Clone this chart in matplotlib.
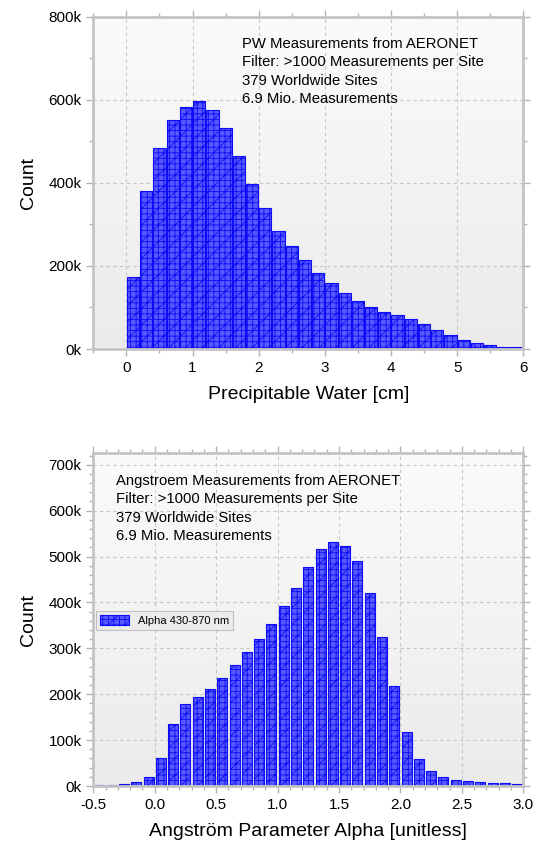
import numpy as np
import matplotlib
matplotlib.use('Agg')
import matplotlib.pyplot as plt
from matplotlib.colors import LinearSegmentedColormap
from matplotlib.ticker import MultipleLocator, FuncFormatter, FormatStrFormatter

plt.rcParams['font.family'] = ['Liberation Sans', 'DejaVu Sans']
plt.rcParams['hatch.linewidth'] = 0.6

# precipitable water histogram, bins of 0.2 cm starting at 0
pw_left = np.arange(30) * 0.2
pw_counts = [173, 381, 484, 552, 582, 598, 576, 532, 465, 397,
             340, 284, 247, 214, 183, 160, 136, 116, 101, 90,
             82, 71.5, 60, 46.6, 33.7, 21.7, 13.7, 8.8, 5.6, 4.8]
pw_counts = np.array(pw_counts) * 1000

# angstroem alpha histogram, bins of 0.1 starting at -0.5
alpha_left = np.arange(-5, 30) / 10.0
alpha_counts = [2, 2, 4.5, 9, 20, 62, 135, 179, 194, 211,
                235, 264, 293, 320, 353, 393, 432, 478, 517, 532,
                523, 490, 420, 325, 217, 118, 59, 32, 19.5, 13,
                11, 8.7, 6.5, 6.5, 4.4]
alpha_counts = np.array(alpha_counts) * 1000

pw_text = ['PW Measurements from AERONET',
           'Filter: >1000 Measurements per Site',
           '379 Worldwide Sites',
           '6.9 Mio. Measurements']
alpha_text = ['Angstroem Measurements from AERONET',
              'Filter: >1000 Measurements per Site',
              '379 Worldwide Sites',
              '6.9 Mio. Measurements']

BAR_FACE = '#5858ff'
BAR_EDGE = '#0c0cf6'
FRAME = '#c4c4c4'
bg_cmap = LinearSegmentedColormap.from_list('bg', ['#ebebeb', '#fbfbfb'])


def style_axes(ax):
    # light gradient background, grey frame, dashed grid
    grad = np.linspace(0, 1, 256).reshape(-1, 1)
    ax.imshow(grad, extent=[0, 1, 0, 1], transform=ax.transAxes, cmap=bg_cmap,
              aspect='auto', origin='lower', zorder=0)
    for sp in ax.spines.values():
        sp.set_color(FRAME)
        sp.set_linewidth(2)
    ax.grid(True, which='major', linestyle=(0, (3, 3)), color='#c6c6c6', linewidth=0.8)
    ax.set_axisbelow(True)
    ax.tick_params(which='both', direction='out', color='#b4b4b4', top=True, right=True,
                   labeltop=False, labelright=False, labelsize=11)
    ax.tick_params(which='major', length=5, width=1)
    ax.tick_params(which='minor', length=3, width=1)


fig = plt.figure(figsize=(5.36, 8.49), dpi=100)

# top panel: precipitable water
ax1 = fig.add_axes([0.1741, 0.5889, 0.8022, 0.3916])
style_axes(ax1)
ax1.bar(pw_left + 0.1, pw_counts, width=0.185, color=BAR_FACE, edgecolor=BAR_EDGE,
        linewidth=0.8, hatch='+++//', zorder=2)
ax1.set_xlim(-0.5, 6.0)
ax1.set_ylim(0, 800000)
ax1.xaxis.set_major_locator(MultipleLocator(1))
ax1.xaxis.set_minor_locator(MultipleLocator(0.5))
ax1.yaxis.set_major_locator(MultipleLocator(200000))
ax1.yaxis.set_minor_locator(MultipleLocator(100000))
ax1.yaxis.set_major_formatter(FuncFormatter(lambda v, p: '%dk' % round(v / 1000)))
ax1.set_xlabel('Precipitable Water [cm]', fontsize=14, labelpad=8)
ax1.set_ylabel('Count', fontsize=14, labelpad=8)
ax1.text(0.345, 0.94, '\n'.join(pw_text), transform=ax1.transAxes, va='top', ha='left',
         fontsize=10.7, linespacing=1.42, zorder=3)

# bottom panel: angstroem alpha
ax2 = fig.add_axes([0.1741, 0.0742, 0.8022, 0.3919])
style_axes(ax2)
ax2.bar(alpha_left + 0.05, alpha_counts, width=0.082, color=BAR_FACE, edgecolor=BAR_EDGE,
        linewidth=0.8, hatch='+++//', zorder=2, label='Alpha 430-870 nm')
ax2.set_xlim(-0.5, 3.0)
ax2.set_ylim(0, 725000)
ax2.xaxis.set_major_locator(MultipleLocator(0.5))
ax2.xaxis.set_minor_locator(MultipleLocator(0.1))
ax2.xaxis.set_major_formatter(FormatStrFormatter('%.1f'))
ax2.yaxis.set_major_locator(MultipleLocator(100000))
ax2.yaxis.set_minor_locator(MultipleLocator(20000))
ax2.yaxis.set_major_formatter(FuncFormatter(lambda v, p: '%dk' % round(v / 1000)))
ax2.set_xlabel('Angström Parameter Alpha [unitless]', fontsize=14, labelpad=8)
ax2.set_ylabel('Count', fontsize=14, labelpad=8)
ax2.text(0.053, 0.939, '\n'.join(alpha_text), transform=ax2.transAxes, va='top', ha='left',
         fontsize=10.7, linespacing=1.42, zorder=3)
leg = ax2.legend(loc='upper left', bbox_to_anchor=(0.006, 0.527), borderaxespad=0,
                 fancybox=False, edgecolor='#c0c0c0', facecolor='#ececec', framealpha=1,
                 fontsize=8, handlelength=2.6, handleheight=1.1, borderpad=0.35)
leg.get_frame().set_linewidth(0.8)

fig.savefig('out.png', dpi=100)
